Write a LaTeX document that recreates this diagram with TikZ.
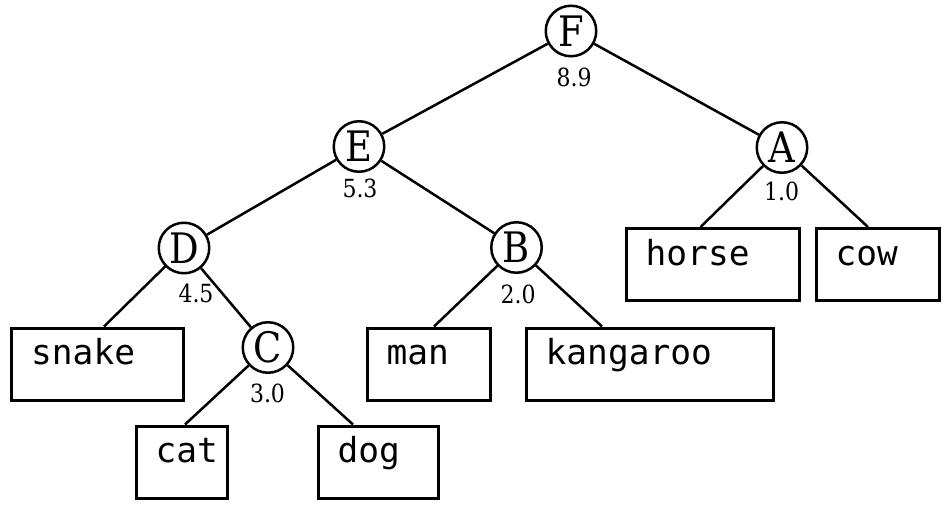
\documentclass[tikz,border=0pt]{standalone}
\usepackage{fontspec}
\newfontfamily\nodefont[FakeStretch=0.88]{DejaVu Serif}
\newfontfamily\leaffont{DejaVu Sans Mono}
\begin{document}
\begin{tikzpicture}[x=1pt,y=-1pt,
  inner/.style={circle,draw,line width=2.5pt,minimum size=50.5pt,inner sep=0pt,
    font=\nodefont\fontsize{42}{42}\selectfont},
  dist/.style={inner sep=0pt,font=\nodefont\fontsize{25}{25}\selectfont},
  leafbox/.style={draw,line width=3pt,anchor=north west,inner sep=0pt,minimum height=72pt},
  leaftext/.style={anchor=base west,inner sep=0pt,font=\leaffont\fontsize{34.5}{34.5}\selectfont},
  edge/.style={line width=2.5pt}]
\useasboundingbox (0,0) rectangle (945,504);

% internal nodes of the tree
\node[inner] (F) at (571,31) {F};
\node[inner] (E) at (359,146.5) {E};
\node[inner] (A) at (782,147.5) {A};
\node[inner] (D) at (184,248) {D};
\node[inner] (B) at (516.5,247.5) {B};
\node[inner] (C) at (268,347.5) {C};

% merge heights
\node[dist] (hF) at (574,77) {8.9};
\node[dist] (hE) at (360,188) {5.3};
\node[dist] (hA) at (781.5,191.5) {1.0};
\node[dist] (hD) at (196,293) {4.5};
\node[dist] (hB) at (518,294) {2.0};
\node[dist] (hC) at (267.5,393) {3.0};

% leaves
\node[leafbox,minimum width=171.5pt] (snake) at (10,326.5) {};
\node[leafbox,minimum width=91pt] (cat) at (134.5,424.5) {};
\node[leafbox,minimum width=120pt] (dog) at (316.5,424.5) {};
\node[leafbox,minimum width=123pt] (man) at (365.5,326.5) {};
\node[leafbox,minimum width=247pt] (kangaroo) at (524.5,326.5) {};
\node[leafbox,minimum width=173pt] (horse) at (624.5,227) {};
\node[leafbox,minimum width=123pt] (cow) at (814.5,227) {};

\foreach \n in {snake,cat,dog,man,kangaroo,horse,cow}
  \node[leaftext] (\n-label) at ([shift={(21pt,-38pt)}]\n.north west) {\n};

% branches
\draw[edge] (F) -- (E);
\draw[edge] (F) -- (A);
\draw[edge] (E) -- (D);
\draw[edge] (E) -- (B);
\draw[edge] (D) -- (C);
\draw[edge] (D) -- ([xshift=94pt]snake.north west);
\draw[edge] (C) -- ([xshift=50.5pt]cat.north west);
\draw[edge] (C) -- ([xshift=36.5pt]dog.north west);
\draw[edge] (B) -- ([xshift=68.5pt]man.north west);
\draw[edge] (B) -- ([xshift=77.5pt]kangaroo.north west);
\draw[edge] (A) -- ([xshift=76pt]horse.north west);
\draw[edge] (A) -- ([xshift=53.5pt]cow.north west);
\end{tikzpicture}
\end{document}
